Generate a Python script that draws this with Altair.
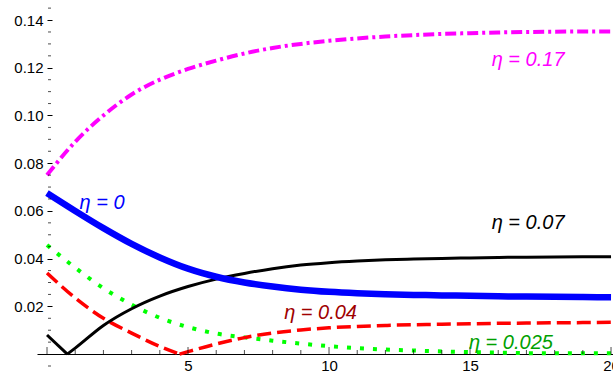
import altair as alt
import pandas as pd

# ---- series values (x = time, y = quantity) ----
xs = list(range(0, 21))

eta_017 = [0.0750, 0.0890, 0.1000, 0.1088, 0.1150, 0.1195, 0.1230, 0.1260, 0.1283, 0.1300,
           0.1313, 0.1323, 0.1331, 0.1337, 0.1342, 0.1345, 0.1348, 0.1350, 0.1351, 0.1352, 0.1352]

eta_0 = [0.0675, 0.0600, 0.0528, 0.0462, 0.0405, 0.0358, 0.0324, 0.0300, 0.0283, 0.0270,
         0.0261, 0.0255, 0.0251, 0.0248, 0.0246, 0.0244, 0.0242, 0.0241, 0.0240, 0.0239, 0.0238]

# eta = 0.07 has a kink at x = 0.72
eta_007_x1 = [0.0, 0.72]
eta_007_y1 = [0.0080, 0.0]
eta_007_x2 = [0.72] + list(range(1, 21))
eta_007_y2 = [0.0, 0.0025, 0.0120, 0.0190, 0.0243, 0.0283, 0.0314, 0.0338, 0.0358, 0.0373, 0.0383,
              0.0390, 0.0395, 0.0398, 0.0401, 0.0403, 0.0405, 0.0406, 0.0407, 0.0408, 0.0408]

# eta = 0.04 has a kink at x = 4.7
eta_004_x1 = [0, 1, 2, 3, 4, 4.7]
eta_004_y1 = [0.0340, 0.0235, 0.0150, 0.0088, 0.0032, 0.0]
eta_004_x2 = [4.7] + list(range(5, 21))
eta_004_y2 = [0.0, 0.0010, 0.0042, 0.0069, 0.0088, 0.0101, 0.0110, 0.0116, 0.0120,
              0.0123, 0.0125, 0.0127, 0.0129, 0.0130, 0.0131, 0.0132, 0.0133]

eta_0025 = [0.0457, 0.0362, 0.0276, 0.0207, 0.0152, 0.0113, 0.0086, 0.0070, 0.0056, 0.0044,
            0.0033, 0.0025, 0.0019, 0.0015, 0.0011, 0.0008, 0.0006, 0.0004, 0.0003, 0.0003, 0.0003]

# curve labels
label_text = ["η = 0.17", "η = 0", "η = 0.07", "η = 0.04", "η = 0.025"]
label_x = [17.06, 1.95, 17.06, 9.70, 16.45]
label_y = [0.1232, 0.0633, 0.0549, 0.0172, 0.0046]
label_color = ["#FF00FF", "#0000FF", "#000000", "#A00000", "#00A000"]

# axis ticks
y_major = [0.02, 0.04, 0.06, 0.08, 0.10, 0.12, 0.14]
y_minor = [-0.005, 0.005, 0.01, 0.015, 0.025, 0.03, 0.035, 0.045, 0.05, 0.055, 0.065, 0.07,
           0.075, 0.085, 0.09, 0.095, 0.105, 0.11, 0.115, 0.125, 0.13, 0.135, 0.145]
x_major = [0, 5, 10, 15, 20]
x_minor = [1, 2, 3, 4, 6, 7, 8, 9, 11, 12, 13, 14, 16, 17, 18, 19]

XDOM = [-0.355, 20.07]
YDOM = [-0.005, 0.1484]
FONT = "Liberation Sans"

xsc = alt.Scale(domain=XDOM, nice=False, zero=False)
ysc = alt.Scale(domain=YDOM, nice=False, zero=False)

x_axis = alt.Axis(values=[5, 10, 15, 20], ticks=False, tickSize=0, domain=True,
                  domainColor="black", domainWidth=1, labelFont=FONT, labelFontSize=15,
                  labelColor="black", labelPadding=4, offset=-12, grid=False, title=None)
y_axis = alt.Axis(values=y_major, format=".2f", tickSize=5, tickColor="black", tickWidth=1,
                  offset=-15, domain=False, labelPadding=4, labelFont=FONT, labelFontSize=15,
                  labelColor="black", grid=False, title=None)


def X(field):
    return alt.X(field, scale=xsc, axis=x_axis)


def Y(field):
    return alt.Y(field, scale=ysc, axis=y_axis)


def frame(xv, yv, seg=0):
    return pd.DataFrame({"x": xv, "y": yv, "seg": [seg] * len(xv)})


def curve(df, color, width, dash=None):
    kw = dict(color=color, strokeWidth=width, interpolate="monotone", clip=False)
    if dash:
        kw["strokeDash"] = dash
    return alt.Chart(df).mark_line(**kw).encode(x=X("x:Q"), y=Y("y:Q"), detail="seg:N")


green = curve(frame(xs, eta_0025), "#00FF00", 4, [4, 9])
red = curve(pd.concat([frame(eta_004_x1, eta_004_y1, 0), frame(eta_004_x2, eta_004_y2, 1)]),
            "#FF0000", 3.5, [14, 6])
black = curve(pd.concat([frame(eta_007_x1, eta_007_y1, 0), frame(eta_007_x2, eta_007_y2, 1)]),
              "#000000", 3)
blue = curve(frame(xs, eta_0), "#0000FF", 6.5)
magenta = curve(frame(xs, eta_017), "#FF00FF", 4, [11, 4, 3, 4])

# minor ticks on the vertical axis (pointing into the plot)
ymin_ticks = alt.Chart(pd.DataFrame({"y": y_minor, "x": [0] * len(y_minor)})).mark_tick(
    orient="horizontal", size=3, thickness=1, color="black", xOffset=2.5
).encode(x=X("x:Q"), y=Y("y:Q"))

# ticks on the horizontal axis (pointing up)
xmaj_ticks = alt.Chart(pd.DataFrame({"x": x_major, "y": [0] * len(x_major)})).mark_tick(
    orient="vertical", size=7, thickness=1, color="black", yOffset=-3.5
).encode(x=X("x:Q"), y=Y("y:Q"))
xmin_ticks = alt.Chart(pd.DataFrame({"x": x_minor, "y": [0] * len(x_minor)})).mark_tick(
    orient="vertical", size=4, thickness=1, color="black", yOffset=-2
).encode(x=X("x:Q"), y=Y("y:Q"))

labels_df = pd.DataFrame({"x": label_x, "y": label_y, "t": label_text, "c": label_color})
labels = alt.Chart(labels_df).mark_text(
    font=FONT, fontSize=20, fontStyle="italic", align="center", baseline="middle"
).encode(
    x=X("x:Q"), y=Y("y:Q"),
    text="t:N", color=alt.Color("c:N", scale=None)
)

chart = alt.layer(
    green, red, black, blue, magenta, ymin_ticks, xmaj_ticks, xmin_ticks, labels
).properties(
    width=576, height=366,
    padding={"left": 37, "top": 0, "right": 0, "bottom": 11},
    autosize=alt.AutoSizeParams(type="none"),
    background="white",
).configure_view(strokeWidth=0)

chart.save("out.html", embed_options={"renderer": "svg", "actions": False})
